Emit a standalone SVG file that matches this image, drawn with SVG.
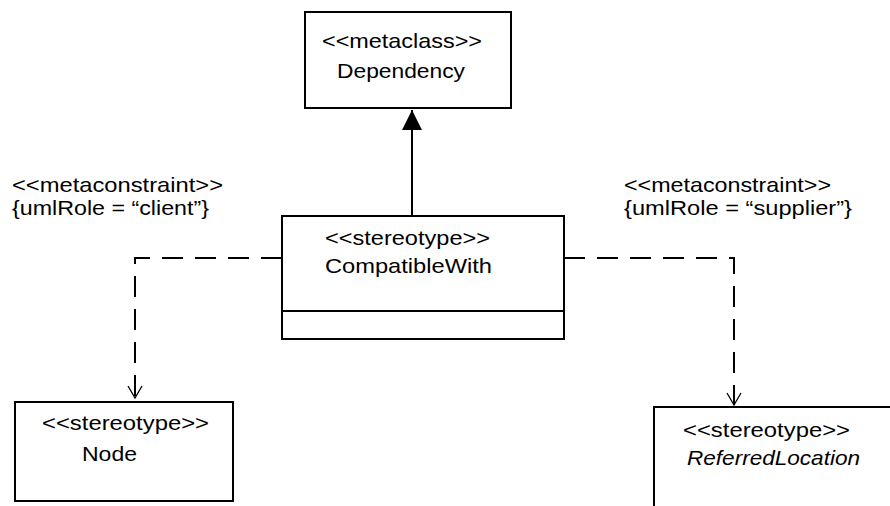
<svg xmlns="http://www.w3.org/2000/svg" width="890" height="506" viewBox="0 0 890 506">
  <style>
    .box { fill: #ffffff; stroke: #000000; stroke-width: 2; }
    .t { font-family: "Liberation Sans", Arial, Helvetica, sans-serif; font-size: 21px; fill: #000000; }
    .it { font-style: italic; }
    .solid { fill: none; stroke: #000000; stroke-width: 2; }
    .dash { fill: none; stroke: #000000; stroke-width: 2; stroke-dasharray: 21 12; }
  </style>
  <defs>
    <marker id="tri" markerUnits="userSpaceOnUse" markerWidth="22" markerHeight="22" refX="20" refY="10" orient="auto">
      <path d="M0,0 L20,10 L0,20 Z" fill="#000000" stroke="none"/>
    </marker>
    <marker id="open" markerUnits="userSpaceOnUse" markerWidth="16" markerHeight="18" refX="13" refY="8" orient="auto">
      <path d="M1,1 L13,8 L1,15" fill="none" stroke="#000000" stroke-width="1.3" stroke-dasharray="none"/>
    </marker>
  </defs>

  <g id="connectors">
    <line class="solid" x1="412" y1="216" x2="412" y2="110" marker-end="url(#tri)"/>
    <polyline class="dash" points="282,258 135,258 135,398" marker-end="url(#open)"/>
    <polyline class="dash" points="564,258 734,258 734,405" marker-end="url(#open)"/>
  </g>

  <g id="dependency">
    <rect class="box" x="305" y="12" width="206" height="96"/>
    <text class="t" x="322" y="48" textLength="160" lengthAdjust="spacingAndGlyphs">&lt;&lt;metaclass&gt;&gt;</text>
    <text class="t" x="337" y="78" textLength="128" lengthAdjust="spacingAndGlyphs">Dependency</text>
  </g>

  <g id="compatibleWith">
    <rect class="box" x="282" y="216" width="282" height="123"/>
    <line class="solid" x1="282" y1="311" x2="564" y2="311"/>
    <text class="t" x="325" y="245" textLength="165" lengthAdjust="spacingAndGlyphs">&lt;&lt;stereotype&gt;&gt;</text>
    <text class="t" x="325" y="273" textLength="167" lengthAdjust="spacingAndGlyphs">CompatibleWith</text>
  </g>

  <g id="clientConstraint">
    <text class="t" x="12" y="192" textLength="211" lengthAdjust="spacingAndGlyphs">&lt;&lt;metaconstraint&gt;&gt;</text>
    <text class="t" x="12" y="215" textLength="197" lengthAdjust="spacingAndGlyphs">{umlRole = “client”}</text>
  </g>

  <g id="supplierConstraint">
    <text class="t" x="624" y="192" textLength="207" lengthAdjust="spacingAndGlyphs">&lt;&lt;metaconstraint&gt;&gt;</text>
    <text class="t" x="624" y="215" textLength="228" lengthAdjust="spacingAndGlyphs">{umlRole = “supplier”}</text>
  </g>

  <g id="node">
    <rect class="box" x="15" y="402" width="218" height="99"/>
    <text class="t" x="42" y="430" textLength="167" lengthAdjust="spacingAndGlyphs">&lt;&lt;stereotype&gt;&gt;</text>
    <text class="t" x="82" y="461" textLength="55" lengthAdjust="spacingAndGlyphs">Node</text>
  </g>

  <g id="referredLocation">
    <rect class="box" x="654" y="407" width="260" height="120"/>
    <text class="t" x="683" y="437" textLength="167" lengthAdjust="spacingAndGlyphs">&lt;&lt;stereotype&gt;&gt;</text>
    <text class="t it" x="687" y="465" textLength="173" lengthAdjust="spacingAndGlyphs">ReferredLocation</text>
  </g>
</svg>
